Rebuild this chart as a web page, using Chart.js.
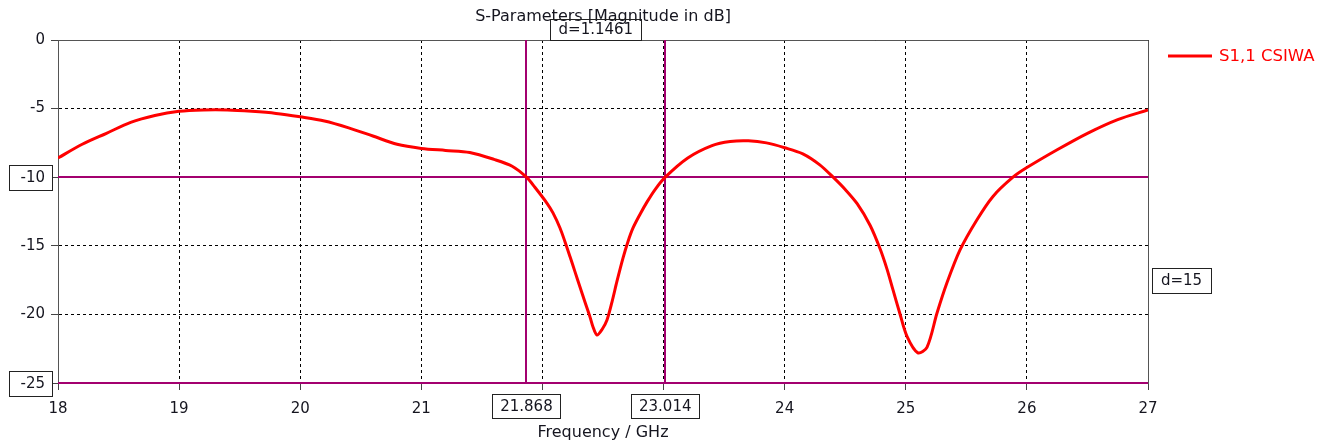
<!DOCTYPE html>
<html>
<head>
<meta charset="utf-8">
<script src="https://cdn.jsdelivr.net/npm/chart.js@4.4.0/dist/chart.umd.min.js"></script>
<style>
  html, body { margin: 0; padding: 0; background: #fff; }
  #wrap { width: 1330px; height: 447px; }
</style>
</head>
<body>
<div id="wrap"><canvas id="c" width="1330" height="447"></canvas></div>
<script>
// S1,1 of the CSIWA, magnitude in dB against frequency in GHz
const freqGHz = [
  18.0, 18.2, 18.4, 18.6, 18.8, 19.0, 19.2, 19.4, 19.6, 19.8,
  20.0, 20.2, 20.4, 20.6, 20.8, 21.0, 21.2, 21.4, 21.6, 21.75,
  21.868, 21.939, 22.038, 22.087, 22.145, 22.186, 22.228, 22.269, 22.31, 22.351,
  22.393, 22.417, 22.45, 22.492, 22.533, 22.574, 22.615, 22.665, 22.706, 22.748,
  22.806, 22.864, 22.93, 23.014, 23.2, 23.4, 23.55, 23.7, 23.85, 24.0,
  24.15, 24.29, 24.4, 24.5, 24.6, 24.705, 24.787, 24.845, 24.894, 24.95,
  25.01, 25.1, 25.175, 25.258, 25.34, 25.448, 25.588, 25.72, 25.885, 26.0,
  26.25, 26.5, 26.75, 27.0
];
const s11dB = [
  -8.6, -7.6, -6.8, -6.0, -5.5, -5.2, -5.1, -5.1, -5.2, -5.35,
  -5.6, -5.9, -6.4, -7.0, -7.6, -7.9, -8.05, -8.2, -8.7, -9.2,
  -10.0, -10.75, -11.9, -12.6, -13.7, -14.7, -15.8, -16.9, -18.0, -19.1,
  -20.2, -20.9, -21.5, -21.1, -20.4, -19.1, -17.6, -15.9, -14.7, -13.7,
  -12.7, -11.8, -10.9, -10.0, -8.6, -7.7, -7.4, -7.35, -7.5, -7.85,
  -8.3, -9.1, -10.0, -10.9, -11.95, -13.5, -15.2, -16.7, -18.2, -19.9,
  -21.6, -22.8, -22.4, -19.9, -17.7, -15.3, -13.1, -11.4, -10.0, -9.3,
  -8.0, -6.8, -5.8, -5.1
];

// axis markers: two frequency markers and two level markers
const markerFreqs = [21.868, 23.014];
const markerFreqLabels = ['21.868', '23.014'];
const markerLevels = [-10, -25];
const markerLevelLabels = ['-10', '-25'];
const freqDeltaLabel = 'd=1.1461';
const levelDeltaLabel = 'd=15';

const xTickValues = [18, 19, 20, 21, 22, 23, 24, 25, 26, 27];
const yTickValues = [0, -5, -10, -15, -20, -25];

const seriesName = 'S1,1 CSIWA';
const chartTitle = 'S-Parameters [Magnitude in dB]';
const xTitle = 'Frequency / GHz';

const FONT = '"DejaVu Sans", sans-serif';
const TEXT = '#15151f';
const MARK = '#a3006f';
const RED = '#ff0000';

const points = freqGHz.map((f, i) => ({ x: f, y: s11dB[i] }));

function boxAt(ctx, text, left, top, w, h, textX, textY) {
  ctx.fillStyle = '#fff';
  ctx.fillRect(left, top, w, h);
  ctx.strokeStyle = '#222';
  ctx.lineWidth = 1;
  ctx.strokeRect(left + 0.5, top + 0.5, w, h);
  ctx.fillStyle = TEXT;
  ctx.fillText(text, textX, textY);
}

const markersPlugin = {
  id: 'markers',
  beforeDatasetsDraw(chart) {
    const { ctx, chartArea: a, scales: { x, y } } = chart;
    ctx.save();
    // frame on top and right
    ctx.strokeStyle = '#555';
    ctx.lineWidth = 1;
    ctx.beginPath();
    ctx.moveTo(a.left, a.top + 0.5);
    ctx.lineTo(a.right + 0.5, a.top + 0.5);
    ctx.lineTo(a.right + 0.5, a.bottom);
    ctx.stroke();
    ctx.strokeStyle = MARK;
    ctx.lineWidth = 2;
    markerFreqs.forEach(f => {
      const px = Math.round(x.getPixelForValue(f));
      ctx.beginPath();
      ctx.moveTo(px, a.top);
      ctx.lineTo(px, a.bottom);
      ctx.stroke();
    });
    markerLevels.forEach(v => {
      const py = Math.round(y.getPixelForValue(v));
      ctx.beginPath();
      ctx.moveTo(a.left, py);
      ctx.lineTo(a.right, py);
      ctx.stroke();
    });
    ctx.restore();
  },
  afterDraw(chart) {
    const { ctx, chartArea: a, scales: { x, y } } = chart;
    ctx.save();
    ctx.textBaseline = 'middle';
    ctx.textAlign = 'center';
    ctx.fillStyle = TEXT;
    ctx.font = '16px ' + FONT;
    ctx.fillText(chartTitle, (a.left + a.right) / 2, 17);
    ctx.fillText(xTitle, (a.left + a.right) / 2, 433);

    ctx.font = '15px ' + FONT;
    // frequency marker readouts under the axis
    markerFreqs.forEach((f, i) => {
      const cx = x.getPixelForValue(f);
      const w = Math.round(ctx.measureText(markerFreqLabels[i]).width) + 16;
      boxAt(ctx, markerFreqLabels[i], Math.round(cx - w / 2), 394, w, 24, cx, 407);
    });
    // level marker readouts left of the axis
    ctx.textAlign = 'right';
    markerLevels.forEach((v, i) => {
      const py = Math.round(y.getPixelForValue(v));
      boxAt(ctx, markerLevelLabels[i], 9, py - 12, 43, 25, 45, py + 1);
    });
    // delta readouts, outline only
    ctx.textAlign = 'center';
    const midF = (x.getPixelForValue(markerFreqs[0]) + x.getPixelForValue(markerFreqs[1])) / 2;
    const dw = Math.round(ctx.measureText(freqDeltaLabel).width) + 16;
    ctx.strokeStyle = '#222';
    ctx.lineWidth = 1;
    ctx.strokeRect(Math.round(midF - dw / 2) + 0.5, 19.5, dw, 21);
    ctx.fillStyle = TEXT;
    ctx.fillText(freqDeltaLabel, midF, 30);
    boxAt(ctx, levelDeltaLabel, 1152, 268, 59, 25, 1181.5, 281);

    // legend
    ctx.strokeStyle = RED;
    ctx.lineWidth = 3;
    ctx.beginPath();
    ctx.moveTo(1168, 56);
    ctx.lineTo(1212, 56);
    ctx.stroke();
    ctx.fillStyle = RED;
    ctx.textAlign = 'left';
    ctx.font = '16.5px ' + FONT;
    ctx.fillText(seriesName, 1219, 57);
    ctx.restore();
  }
};

new Chart(document.getElementById('c'), {
  type: 'scatter',
  data: {
    datasets: [{
      label: seriesName,
      data: points,
      showLine: true,
      borderColor: RED,
      borderWidth: 3,
      pointRadius: 0,
      tension: 0.3,
      fill: false
    }]
  },
  options: {
    responsive: false,
    animation: false,
    devicePixelRatio: 1,
    layout: { padding: { top: 40, right: 182, left: 0, bottom: 24 } },
    plugins: { legend: { display: false }, title: { display: false }, tooltip: { enabled: false } },
    scales: {
      x: {
        type: 'linear',
        min: 18, max: 27,
        afterBuildTicks: s => { s.ticks = xTickValues.map(v => ({ value: v })); },
        afterFit: s => { s.height = 40; },
        ticks: { color: TEXT, font: { family: FONT, size: 15 }, padding: 10, maxRotation: 0, autoSkip: false,
                 callback: v => String(v) },
        grid: { color: '#000', lineWidth: 1, tickLength: 7, tickBorderDash: [], tickColor: '#444' },
        border: { display: true, color: '#555', width: 1, dash: [3, 3] }
      },
      y: {
        type: 'linear',
        min: -25, max: 0,
        afterBuildTicks: s => { s.ticks = yTickValues.map(v => ({ value: v })); },
        afterFit: s => { s.width = 58; },
        ticks: { color: TEXT, font: { family: FONT, size: 15 }, padding: 6, autoSkip: false,
                 callback: v => markerLevels.includes(v) ? '' : String(v) },
        grid: { color: '#000', lineWidth: 1, tickLength: 7, tickBorderDash: [], tickColor: '#444' },
        border: { display: true, color: '#555', width: 1, dash: [3, 3] }
      }
    }
  },
  plugins: [markersPlugin]
});
</script>
</body>
</html>
